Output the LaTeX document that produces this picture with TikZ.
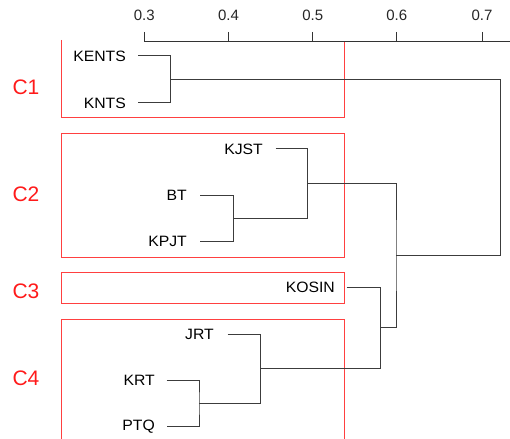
\documentclass[tikz,border=0pt]{standalone}
\usepackage{fontspec}
\usepackage{graphicx}
\setmainfont{Liberation Sans}
\definecolor{treeline}{HTML}{3C3C3C}
\definecolor{boxred}{HTML}{FF4040}
\definecolor{clred}{HTML}{FF1A1A}
\newcommand{\widelbl}[1]{\scalebox{1.05}[1]{#1}}
\begin{document}
\begin{tikzpicture}[x=1pt,y=-1pt,
  leaf/.style={anchor=east,inner sep=0pt,font=\fontsize{15}{15}\selectfont,text=black},
  ticklbl/.style={inner sep=0pt,font=\fontsize{15}{15}\selectfont,text=black!85},
  clus/.style={inner sep=0pt,font=\fontsize{21}{21}\selectfont,text=clred},
  tree/.style={draw=treeline,line width=1pt},
  redbox/.style={draw=boxred,line width=1pt},
  axisline/.style={draw=black!80,line width=1pt}]
\useasboundingbox (0,0) rectangle (510,438);

% red cluster boxes
\draw[redbox] (61,40) -- (61,117.3) -- (344,117.3) -- (344,41.5);
\draw[redbox] (61,133.3) rectangle (344,257);
\draw[redbox] (61,272) rectangle (344,303.3);
\draw[redbox] (61,440) -- (61,319) -- (344,319) -- (344,440);

% axis
\draw[axisline] (144.3,41.3) -- (512,41.3);
\foreach \v/\xx in {0.3/144.3,0.4/228.5,0.5/312.7,0.6/396.7,0.7/482}{
  \draw[axisline] (\xx,32) -- (\xx,41.3);
  \node[ticklbl] (t\v) at (\xx,15) {\v};
}

% cluster labels
\node[clus] (c1) at (26,87.5) {C1};
\node[clus] (c2) at (26,194) {C2};
\node[clus] (c3) at (26,291) {C3};
\node[clus] (c4) at (26,378.5) {C4};

% leaves
\node[leaf] (kents) at (126,56) {\widelbl{KENTS}};
\node[leaf] (knts)  at (126,103) {\widelbl{KNTS}};
\node[leaf] (kjst)  at (263,149) {\widelbl{KJST}};
\node[leaf] (bt)    at (187,195.5) {\widelbl{BT}};
\node[leaf] (kpjt)  at (187,241) {\widelbl{KPJT}};
\node[leaf] (kosin) at (335,287) {\widelbl{KOSIN}};
\node[leaf] (jrt)   at (214,334) {\widelbl{JRT}};
\node[leaf] (krt)   at (155,380) {\widelbl{KRT}};
\node[leaf] (ptq)   at (155,426.5) {\widelbl{PTQ}};

% merge points
\coordinate (mA) at (170.7,79.5);
\coordinate (mB) at (233.3,218.3);
\coordinate (mC) at (307.7,183.6);
\coordinate (mD) at (199,403.3);
\coordinate (mE) at (260.7,368.7);
\coordinate (mF) at (380.3,327.8);
\coordinate (mG) at (396,255.7);
\coordinate (mH) at (500.7,167.6);

% dendrogram
\draw[tree] ([xshift=12pt]kents.east) -| (mA) |- ([xshift=12pt]knts.east);
\draw[tree] ([xshift=13pt]bt.east) -| (mB) |- ([xshift=13pt]kpjt.east);
\draw[tree] ([xshift=12.7pt]kjst.east) -| (mC) |- (mB);
\draw[tree] ([xshift=11.7pt]krt.east) -| (mD) |- ([xshift=11.7pt]ptq.east);
\draw[tree] ([xshift=13.7pt]jrt.east) -| (mE) |- (mD);
\draw[tree] ([xshift=11.7pt]kosin.east) -| (mF) |- (mE);
\draw[tree] (mC) -| (mG) |- (mF);
\draw[tree] (mA) -| (mH) |- (mG);
\end{tikzpicture}
\end{document}
